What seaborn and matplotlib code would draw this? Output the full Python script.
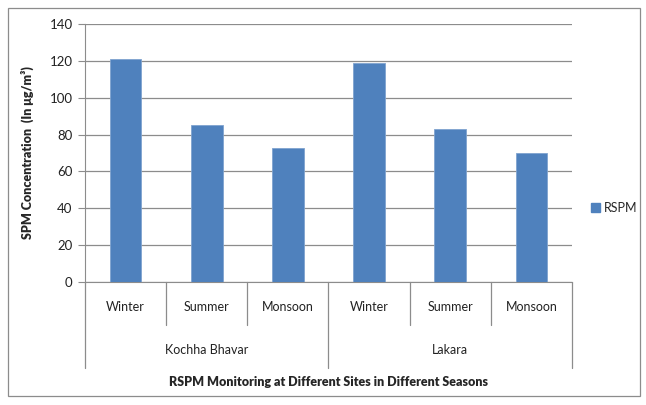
import matplotlib
matplotlib.use("Agg")
import matplotlib.pyplot as plt
import matplotlib.patches as mpatches
import matplotlib.transforms as mtransforms
import seaborn as sns
import pandas as pd

sites = ["Kochha Bhavar", "Lakara"]
seasons = ["Winter", "Summer", "Monsoon"]
rspm_kochha = [121, 85, 72.5]
rspm_lakara = [119, 83, 70]
y_ticks = [0, 20, 40, 60, 80, 100, 120, 140]

slots, vals = [], []
for site, series in zip(sites, [rspm_kochha, rspm_lakara]):
    for s, v in zip(seasons, series):
        slots.append(f"{site}|{s}")
        vals.append(v)
df = pd.DataFrame({"slot": slots, "value": vals})

sns.set_style("white")
plt.rcParams["font.family"] = ["Lato", "DejaVu Sans"]

fig = plt.figure(figsize=(6.46, 4.05), dpi=100)
ax = fig.add_axes([85/646, 1-282/405, (572-85)/646, (282-24)/405])

bar_color = "#4F81BD"
sns.barplot(data=df, x="slot", y="value", color=bar_color, width=0.39,
            saturation=1, ax=ax, edgecolor="#7FA3CF", linewidth=0.6, zorder=3)

ax.set_ylim(0, 140)
ax.set_yticks(y_ticks)
ax.set_xlim(-0.5, 5.5)
ax.yaxis.grid(True, color="#8C8C8C", linewidth=0.9, zorder=0)
ax.set_axisbelow(True)
for sp in ["top", "right"]:
    ax.spines[sp].set_visible(False)
ax.spines["left"].set_color("#8C8C8C")
ax.spines["bottom"].set_color("#8C8C8C")
ax.tick_params(axis="y", length=5, color="#8C8C8C", labelsize=9.5, labelcolor="#222222", pad=4, left=True)
ax.tick_params(axis="x", bottom=False, labelbottom=False)
ax.set_xlabel("")
ax.set_ylabel("SPM Concentration  (In μg/m³)", fontsize=9, fontweight="heavy", labelpad=11)

trans = mtransforms.blended_transform_factory(ax.transData, ax.transAxes)
ax_h = 258.0
def yax(py):
    return -(py - 282) / ax_h

# separators
for i in range(7):
    x = i - 0.5
    bottom = 368 if i in (0, 3, 6) else 325
    ax.plot([x, x], [0, yax(bottom)], transform=trans, color="#8C8C8C",
            linewidth=0.9, clip_on=False)

for i, s in enumerate(slots):
    season = s.split("|")[1]
    ax.text(i, yax(307), season, transform=trans, ha="center", va="center",
            fontsize=9, color="#222222")
for g, site in enumerate(sites):
    ax.text(g * 3 + 1, yax(350), site, transform=trans, ha="center", va="center",
            fontsize=9, color="#222222")

fig.text((85 + 572) / 2 / 646, 1 - 382 / 405,
         "RSPM Monitoring at Different Sites in Different Seasons",
         ha="center", va="center", fontsize=9, fontweight="heavy")

handle = mpatches.Patch(color=bar_color, label="RSPM")
fig.legend(handles=[handle], loc="center left", bbox_to_anchor=(580/646, 1-208/405),
           frameon=False, fontsize=9, handlelength=0.7, handleheight=0.7,
           handletextpad=0.3)

border = mpatches.Rectangle((8/646, 1-396/405), (640-8)/646, (396-8)/405,
                            transform=fig.transFigure, fill=False,
                            edgecolor="#8C8C8C", linewidth=0.9)
fig.patches.append(border)

fig.savefig("out.png", dpi=100)
